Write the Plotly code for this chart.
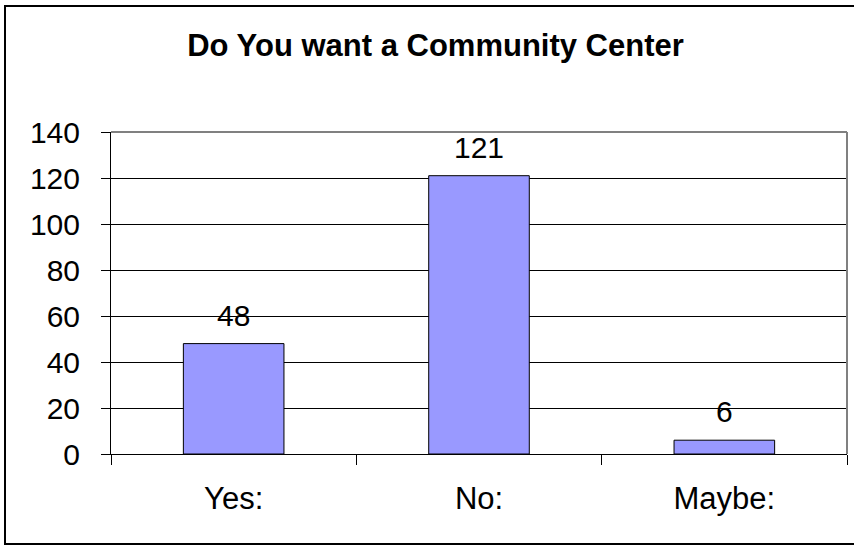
import plotly.graph_objects as go

# Survey answers and counts
categories = ["Yes:", "No:", "Maybe:"]
counts = [48, 121, 6]
y_ticks = [0, 20, 40, 60, 80, 100, 120, 140]

FONT = "Liberation Sans, Arial, sans-serif"
W, H = 854, 546
L, R, T, B = 111, 7, 132, 92
pw, ph = W - L - R, H - T - B


def px_x(px):
    return (px - L) / pw


def px_y(py):
    return (H - B - py) / ph


fig = go.Figure()
fig.add_trace(go.Bar(
    x=categories,
    y=counts,
    width=0.41,
    marker=dict(color="#9999FF", line=dict(color="black", width=1)),
    hoverinfo="x+y",
))

# value labels above each bar
for c, v in zip(categories, counts):
    fig.add_annotation(
        x=c, y=v, text=str(v), showarrow=False,
        yanchor="bottom", yshift=10,
        font=dict(family=FONT, size=30, color="black"),
    )

fig.update_layout(
    width=W, height=H,
    margin=dict(l=L, r=R, t=T, b=B),
    paper_bgcolor="white",
    plot_bgcolor="white",
    showlegend=False,
    bargap=0.59,
    title=dict(
        text="<b>Do You want a Community Center</b>",
        x=435.5 / W, xanchor="center",
        y=1 - 45 / H, yanchor="middle",
        xref="container", yref="container",
        font=dict(family=FONT, size=31, color="black"),
    ),
    xaxis=dict(
        type="category",
        showline=True, linecolor="black", linewidth=1,
        ticks="outside", tickson="boundaries", ticklen=10,
        tickcolor="black", tickwidth=1,
        showgrid=False,
        tickfont=dict(family=FONT, size=31, color="black"),
        ticklabelstandoff=17,
    ),
    yaxis=dict(
        range=[0, 140],
        tickvals=y_ticks,
        showline=True, linecolor="black", linewidth=1,
        ticks="outside", ticklen=9, tickcolor="black", tickwidth=1,
        showgrid=True, gridcolor="black", gridwidth=1,
        zeroline=False,
        tickfont=dict(family=FONT, size=30, color="black"),
        ticklabelstandoff=15,
    ),
    shapes=[
        # grey top and right edges of the plotting area
        dict(type="line", xref="paper", yref="paper", x0=0, x1=1, y0=1, y1=1,
             line=dict(color="#808080", width=2), layer="above"),
        dict(type="line", xref="paper", yref="paper", x0=1, x1=1, y0=0, y1=1,
             line=dict(color="#808080", width=2), layer="above"),
        # chart frame
        dict(type="rect", xref="paper", yref="paper",
             x0=px_x(5), x1=px_x(870), y0=px_y(544), y1=px_y(6),
             line=dict(color="black", width=2), fillcolor="rgba(0,0,0,0)",
             layer="below"),
    ],
)

fig.write_html("out.html")
